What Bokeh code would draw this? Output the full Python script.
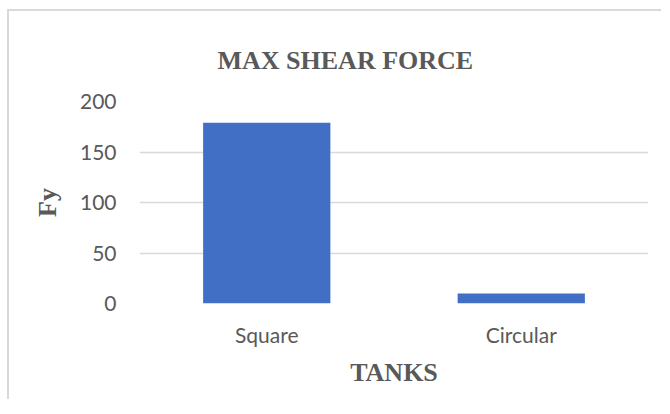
from bokeh.plotting import figure
from bokeh.models import Range1d, FactorRange, Title, FixedTicker
from bokeh.embed import file_html
from bokeh.resources import INLINE

categories = ["Square", "Circular"]
values = [179, 10]
y_ticks = [0, 50, 100, 150, 200]

TEXT = "#595959"
GRID = "#d9d9d9"
SERIF = "Liberation Serif"
SANS = "Lato"

p = figure(
    x_range=FactorRange(*categories, range_padding=0),
    y_range=Range1d(0, 200),
    width=654, height=390,
    output_backend="svg", toolbar_location=None,
    min_border_left=130, min_border_right=15,
    min_border_top=90, min_border_bottom=98,
    margin=(9, 0, 0, 7),
)
p.styles = {"border-top": "2px solid #d9d9d9", "border-left": "2px solid #d9d9d9"}

p.vbar(x=categories, top=values, width=0.5, fill_color="#416fc6", line_color=None)

p.title = None
t = Title(text="MAX SHEAR FORCE", align="left", offset=78, vertical_align="top",
          text_font=SERIF, text_font_size="26px", text_font_style="bold",
          text_color=TEXT, standoff=50)
p.add_layout(t, "above")

p.outline_line_color = None
p.background_fill_color = "white"
p.border_fill_color = "white"

p.xgrid.grid_line_color = None
p.ygrid.grid_line_color = GRID
p.ygrid.grid_line_width = 1.5

p.yaxis.ticker = FixedTicker(ticks=y_ticks)
for ax in (p.xaxis[0], p.yaxis[0]):
    ax.axis_line_color = None
    ax.major_tick_line_color = None
    ax.minor_tick_line_color = None
    ax.major_label_text_font = SANS
    ax.major_label_text_font_size = "21px"
    ax.major_label_text_color = TEXT
    ax.axis_label_text_font = SERIF
    ax.axis_label_text_font_size = "26px"
    ax.axis_label_text_font_style = "bold"
    ax.axis_label_text_color = TEXT

p.yaxis.axis_label = "Fy"
p.yaxis.major_label_standoff = 17
p.yaxis.axis_label_standoff = 15
p.xaxis.axis_label = "TANKS"
p.xaxis.major_label_standoff = 12
p.xaxis.axis_label_standoff = 8

open("out.html", "w").write(file_html(p, INLINE))
